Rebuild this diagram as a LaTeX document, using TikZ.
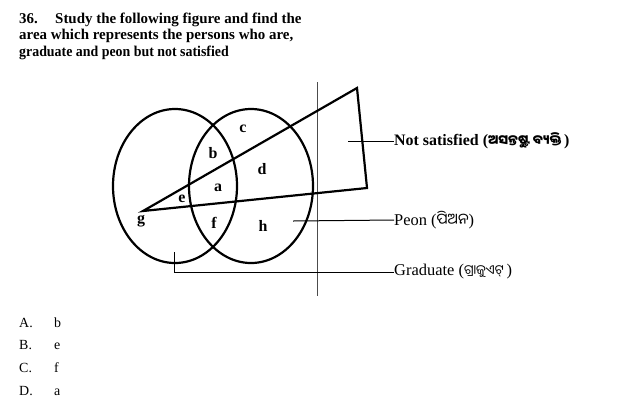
\documentclass[tikz,border=0pt]{standalone}
\usepackage{fontspec}
\setmainfont{Liberation Serif}
\newfontfamily\odia[Script=Oriya]{Noto Sans Oriya UI}
\newcommand{\od}[1]{{\odia\fontsize{13}{15}\selectfont #1}}
\begin{document}
\begin{tikzpicture}[x=1bp,y=-1bp,
  venn/.style={line width=2.2bp},
  lbl/.style={font=\bfseries\fontsize{16}{18}\selectfont, inner sep=0pt},
  ttl/.style={font=\bfseries\fontsize{15}{17}\selectfont, inner sep=0pt, anchor=base west},
  opt/.style={font=\fontsize{14}{16}\selectfont, inner sep=0pt, anchor=base west},
  lead/.style={line width=1bp},
  captxt/.style={inner sep=0pt, anchor=west}]
\useasboundingbox (0,0) rectangle (617,412);
% title
\node[ttl] (q) at (19,23) {36.};
\node[ttl] (t1) at (55,23) {Study the following figure and find the};
\node[ttl] (t2) at (19,39) {area which represents the persons who are,};
\node[ttl] (t3) at (19,56) {\scalebox{0.93}[1]{graduate and peon but not satisfied}};
% fold line
\draw[line width=0.5bp, black!70] (317,82) -- (317,296);
% venn circles
\draw[venn] (175,186) ellipse [x radius=62, y radius=77];
\draw[venn] (251,186) ellipse [x radius=62, y radius=77];
% triangle
\coordinate (g0) at (143,211);
\coordinate (t0) at (357,88);
\coordinate (r0) at (367,188);
\draw[venn, line join=miter] (g0) -- (t0) -- (r0) -- cycle;
% region labels
\node[lbl] (c) at (243,129) {c};
\node[lbl] (b) at (213,153) {b};
\node[lbl] (d) at (262,169) {d};
\node[lbl] (a) at (218,188) {a};
\node[lbl] (e) at (182,199) {e};
\node[lbl] (g) at (141,221) {g};
\node[lbl] (f) at (214,223) {f};
\node[lbl] (h) at (263,226) {h};
% captions
\node[captxt, font=\bfseries\fontsize{16}{18}\selectfont] (ns) at (394,141) {Not satisfied (\od{ଅସନ୍ତୁଷ୍ଟ ବ୍ୟକ୍ତି}\,)};
\node[captxt, font=\fontsize{16.5}{18}\selectfont] (pe) at (394,220) {Peon (\od{\fontsize{15}{17}\selectfont ପିଅନ})};
\node[captxt, font=\fontsize{16.5}{18}\selectfont] (gr) at (394,272) {Graduate (\od{ଗ୍ରାଜୁଏଟ୍}\,)};
\coordinate (nsS) at (348,141);
\coordinate (peS) at (293,221);
\coordinate (grS) at (174,252);
\draw[lead] (nsS) -- (ns.west);
\draw[lead] (peS) -- (pe.west);
\draw[lead] (grS) |- (gr.west);
% options
\node[opt] (oA) at (19,327) {A.};
\node[opt] (vA) at (54,327) {b};
\node[opt] (oB) at (19,349) {B.};
\node[opt] (vB) at (54,349) {e};
\node[opt] (oC) at (19,372) {C.};
\node[opt] (vC) at (54,372) {f};
\node[opt] (oD) at (19,395) {D.};
\node[opt] (vD) at (54,395) {a};
\end{tikzpicture}
\end{document}
